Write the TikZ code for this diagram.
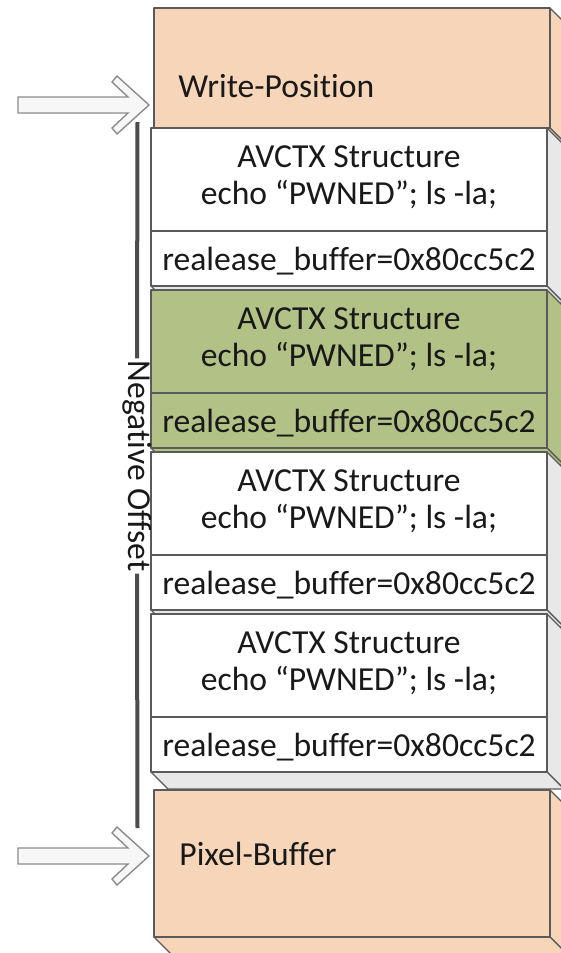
\documentclass[tikz,border=0pt]{standalone}
\usepackage{fontspec}
\setmainfont{Carlito}[Ligatures=NoCommon]
\usetikzlibrary{positioning}
\definecolor{mempink}{RGB}{247,213,185}
\definecolor{memgreen}{RGB}{178,194,134}
\definecolor{memside}{RGB}{232,232,232}
\definecolor{memline}{RGB}{90,90,90}

\begin{document}
\begin{tikzpicture}[x=0.5pt,y=-0.5pt,
    face/.style={draw=memline,line width=0.7pt,line join=round},
    lbl/.style={font=\fontsize{16.8}{20}\selectfont,inner sep=0pt,text=black!90},
    blockarrow/.style={draw=black!45,fill=black!3,line width=0.7pt,line join=miter}]
    \clip (0,0) rectangle (561,953);
    % write position / pixel buffer
    \foreach \t/\b in {8/128,790/937}{
        \draw[face,fill=mempink] (550,\t) -- (567,\t+17) -- (567,\b+17) -- (550,\b) -- cycle;
        \draw[face,fill=mempink] (154,\b) -- (550,\b) -- (567,\b+17) -- (171,\b+17) -- cycle;
        \draw[face,fill=mempink] (154,\t) rectangle (550,\b);
    }
    % the AVCTX blocks
    \foreach \t/\c/\s [count=\i] in {128/white/memside,290/memgreen/memgreen,452/white/memside,614/white/memside}{
        \draw[face,fill=\s] (547,\t) -- (564,\t+17) -- (564,\t+175) -- (547,\t+158) -- cycle;
        \draw[face,fill=\s] (151,\t+158) -- (547,\t+158) -- (564,\t+175) -- (168,\t+175) -- cycle;
        \draw[face,fill=\c] (151,\t) rectangle (547,\t+103);
        \draw[face,fill=\c] (151,\t+103) rectangle (547,\t+158);
        \node[lbl,anchor=base] (head\i) at (349,\t+39) {AVCTX Structure};
        \node[lbl,anchor=base] (cmd\i)  at (349,\t+76) {echo “PWNED”; ls -la;};
        \node[lbl,anchor=base] (rel\i)  at (349,\t+142) {realease\_buffer=0x80cc5c2};
    }
    \node[lbl,anchor=base west] (wpos)   at (178,97)  {Write-Position};
    \node[lbl,anchor=base west] (pixbuf) at (179,865) {Pixel-Buffer};

    \coordinate (offtop) at (137.5,122);
    \coordinate (offbot) at (137.5,828);
    \node[lbl,rotate=-90,inner sep=1pt] (negoff) at (137,466) {Negative Offset};
    \draw[line width=2pt,draw=black!70] (offtop) -- (negoff.west) (negoff.east) -- (offbot);

    \foreach \y in {105,856}{
        \draw[blockarrow] (18,\y-8) -- (128,\y-8) -- (112,\y-23) -- (117,\y-29) -- (149,\y)
            -- (117,\y+29) -- (112,\y+23) -- (128,\y+8) -- (18,\y+8) -- cycle;
    }
\end{tikzpicture}
\end{document}
